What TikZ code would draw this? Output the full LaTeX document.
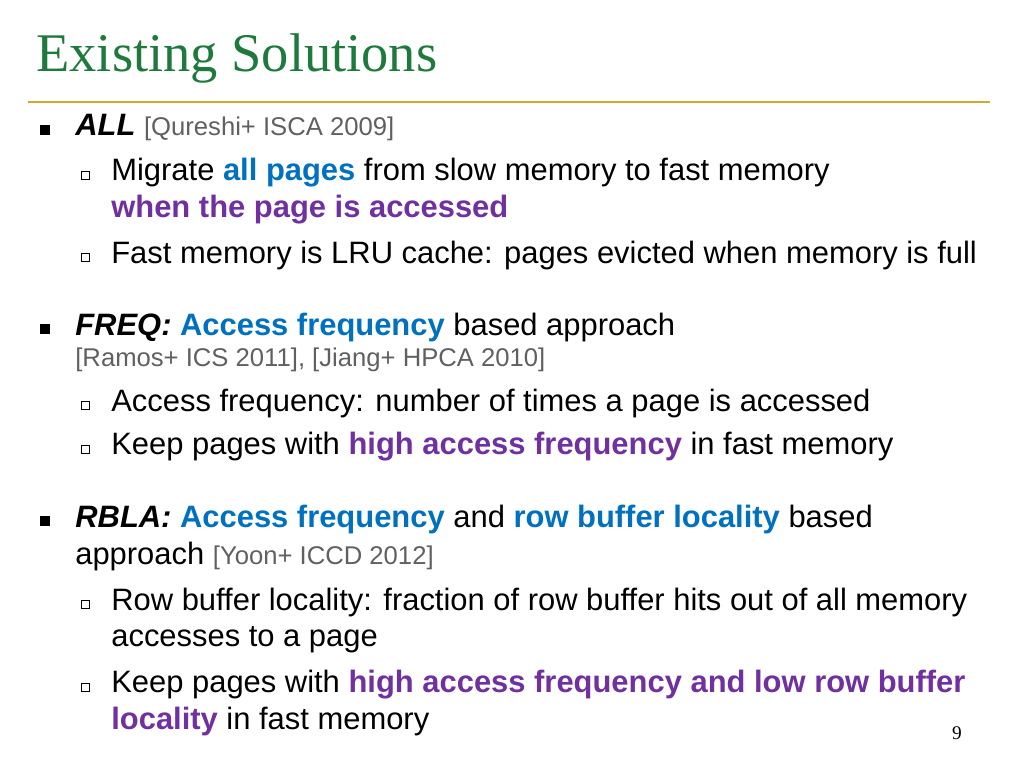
\documentclass[tikz,border=0pt]{standalone}
\usepackage{fontspec}
\setmainfont{Liberation Sans}
\newfontfamily\titlefont{Liberation Serif}
\usetikzlibrary{positioning}
\definecolor{titlegreen}{HTML}{1E7A3C}
\definecolor{rulegold}{HTML}{D4A82C}
\definecolor{keyblue}{HTML}{0070C0}
\definecolor{keypurple}{HTML}{7030A0}
\definecolor{citegray}{HTML}{606060}
\newcommand{\hb}[1]{\textbf{\color{keyblue}#1}}
\newcommand{\hp}[1]{\textbf{\color{keypurple}#1}}
\newcommand{\refcite}[1]{{\fontsize{14.6}{17}\selectfont\color{citegray}#1}}
\begin{document}
\begin{tikzpicture}[x=0.02cm,y=-0.02cm,
    txt/.style={anchor=west,inner sep=0pt,font=\fontsize{17.6}{21}\selectfont},
    bulletbox/.style={fill=black,minimum size=5.5pt,inner sep=0pt},
    subbox/.style={draw=black,line width=0.5pt,minimum size=4.5pt,inner sep=0pt}]
  \useasboundingbox (0,0) rectangle (1024,768);
  % title
  \node[anchor=west,inner sep=0pt,font=\titlefont\fontsize{31}{36}\selectfont,text=titlegreen] (title) at (36,58) {Existing Solutions};
  \coordinate (rulel) at (28,102);
  \coordinate (ruler) at (990,102);
  \draw[rulegold,line width=1.2pt] (rulel) -- (ruler);
  % ALL
  \node[bulletbox] (b1) at (45,130) {};
  \node[txt] (all) at (75,128) {\textbf{\textit{ALL}} \refcite{[Qureshi+ ISCA 2009]}};
  \node[subbox] (s1) at (85,175) {};
  \node[txt] (t1) at (111,173) {Migrate \hb{all pages} from slow memory to fast memory};
  \node[txt] (t1b) at (111,210) {\hp{when the page is accessed}};
  \node[subbox] (s2) at (85,257) {};
  \node[txt] (t2) at (111,255) {Fast memory is LRU cache: pages evicted when memory is full};
  % FREQ
  \node[bulletbox] (b2) at (45,329) {};
  \node[txt] (freq) at (75,327) {\textbf{\textit{FREQ:}} \hb{Access frequency} based approach};
  \node[txt] (freqc) at (75,360) {\refcite{[Ramos+ ICS 2011], [Jiang+ HPCA 2010]}};
  \node[subbox] (s3) at (85,405) {};
  \node[txt] (t3) at (111,403) {Access frequency: number of times a page is accessed};
  \node[subbox] (s4) at (85,449) {};
  \node[txt] (t4) at (111,447) {Keep pages with \hp{high access frequency} in fast memory};
  % RBLA
  \node[bulletbox] (b3) at (45,521) {};
  \node[txt] (rbla) at (75,519) {\textbf{\textit{RBLA:}} \hb{Access frequency} and \hb{row buffer locality} based};
  \node[txt] (rblab) at (75,556) {approach \refcite{[Yoon+ ICCD 2012]}};
  \node[subbox] (s5) at (85,604) {};
  \node[txt] (t5) at (111,602) {Row buffer locality: fraction of row buffer hits out of all memory};
  \node[txt] (t5b) at (111,640) {accesses to a page};
  \node[subbox] (s6) at (85,687) {};
  \node[txt] (t6) at (111,685) {Keep pages with \hp{high access frequency and low row buffer}};
  \node[txt] (t6b) at (111,721) {\hp{locality} in fast memory};
  % page number
  \node[inner sep=0pt,font=\titlefont\fontsize{11}{13}\selectfont] (pnum) at (957,733) {9};
\end{tikzpicture}
\end{document}
